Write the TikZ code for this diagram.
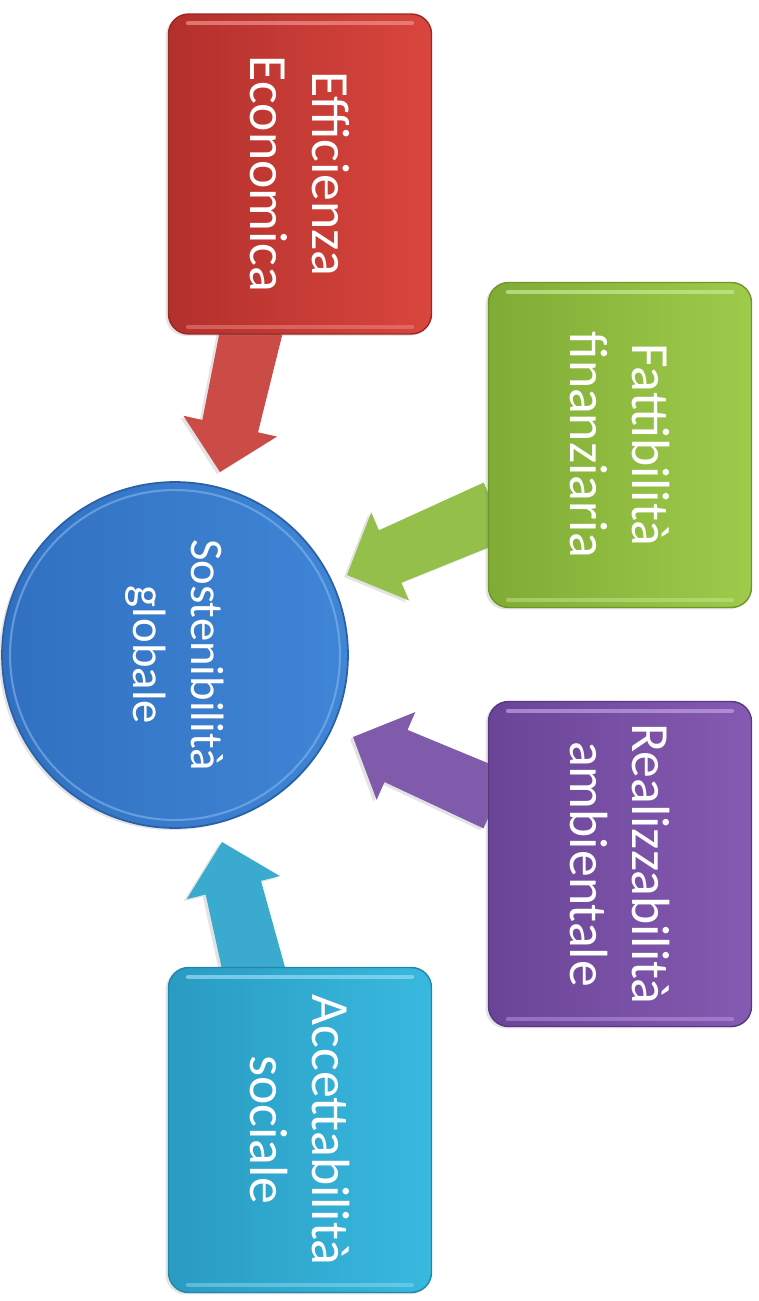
\documentclass[tikz,border=0pt]{standalone}
\usepackage{fontspec}
\setmainfont{Carlito}
\usetikzlibrary{calc,shadows}

% palette
\definecolor{ecoDark}{HTML}{B3302C}
\definecolor{ecoLight}{HTML}{D9463E}
\definecolor{ecoLine}{HTML}{9C2723}
\definecolor{ecoHi}{HTML}{EE8C86}
\definecolor{ecoArrow}{HTML}{CB4C46}
\definecolor{finDark}{HTML}{80AB35}
\definecolor{finLight}{HTML}{9ECB4B}
\definecolor{finLine}{HTML}{6F9629}
\definecolor{finHi}{HTML}{C8E68E}
\definecolor{finArrow}{HTML}{94BF4A}
\definecolor{ambDark}{HTML}{6A4597}
\definecolor{ambLight}{HTML}{855AB2}
\definecolor{ambLine}{HTML}{583883}
\definecolor{ambHi}{HTML}{BB9CE2}
\definecolor{ambArrow}{HTML}{805BAB}
\definecolor{socDark}{HTML}{2A9BC2}
\definecolor{socLight}{HTML}{39B9DF}
\definecolor{socLine}{HTML}{1F86AC}
\definecolor{socHi}{HTML}{8FDAF1}
\definecolor{socArrow}{HTML}{3BAACF}
\definecolor{gloDark}{HTML}{3170C1}
\definecolor{gloLight}{HTML}{4086D6}
\definecolor{gloLine}{HTML}{2A60A8}
\definecolor{gloHi}{HTML}{84B6EE}

\tikzset{
  x=0.02cm, y=-0.02cm,
  softshadow/.style={drop shadow={opacity=0.22, shadow xshift=-0.06cm, shadow yshift=-0.04cm}},
  box/.style={rectangle, rounded corners=0.4cm, minimum width=5.26cm,
    inner sep=0pt, line width=0.8pt, softshadow},
  boxtext/.style={text=white, font=\fontsize{30.6}{35.1}\selectfont,
    align=center, rotate=-90},
  hub/.style={circle, minimum size=6.92cm, inner sep=0pt, line width=1pt,
    left color=gloDark, right color=gloLight, draw=gloLine, softshadow},
  hubtext/.style={text=white, font=\fontsize{26.6}{32.9}\selectfont,
    align=center, rotate=-90},
  hiline/.style={line width=2.2pt, line cap=round, opacity=0.75},
}

% block arrow from a start point to a tip point
\newcommand{\blockarrow}[3]{%
  \coordinate (hb) at ($(#2)!0.94cm!(#1)$);
  \fill[#3, softshadow]
    ($(#1)!0.62cm!90:(#2)$) -- ($(hb)!0.57cm!90:(#2)$) --
    ($(hb)!0.96cm!90:(#2)$) -- (#2) -- ($(hb)!0.96cm!-90:(#2)$) --
    ($(hb)!0.57cm!-90:(#2)$) -- ($(#1)!0.62cm!-90:(#2)$) -- cycle;
}

% highlight strokes near the upper and lower edge of a box
\newcommand{\boxshine}[2]{%
  \draw[hiline, #2] ($(#1.north west)+(20,10)$) -- ($(#1.north east)+(-20,10)$);
  \draw[hiline, #2, opacity=0.5] ($(#1.south west)+(20,-8)$) -- ($(#1.south east)+(-20,-8)$);
}

\begin{document}
\begin{tikzpicture}
\useasboundingbox (0,0) rectangle (759,1301);

% arrow end points
\coordinate (ecoS) at (252,328);
\coordinate (ecoT) at (220,472);
\coordinate (finS) at (496,511);
\coordinate (finT) at (347,575);
\coordinate (ambS) at (496,800);
\coordinate (ambT) at (353,737);
\coordinate (socS) at (255,975);
\coordinate (socT) at (222,842);

\blockarrow{ecoS}{ecoT}{ecoArrow}
\blockarrow{finS}{finT}{finArrow}
\blockarrow{ambS}{ambT}{ambArrow}
\blockarrow{socS}{socT}{socArrow}

% central circle
\node[hub] (glo) at (175,655) {};
\draw[gloHi, line width=1.2pt, opacity=0.6] (glo.center) circle[radius=3.3cm];
\node[hubtext] (glotext) at (glo.center) {Sostenibilità\\globale};

% outer boxes
\node[box, minimum height=6.4cm, left color=ecoDark, right color=ecoLight, draw=ecoLine] (eco) at (300,174) {};
\boxshine{eco}{ecoHi}
\node[boxtext] (ecotext) at (eco.center) {Efficienza\\Economica};

\node[box, minimum height=6.5cm, left color=finDark, right color=finLight, draw=finLine] (fin) at (620,445) {};
\boxshine{fin}{finHi}
\node[boxtext] (fintext) at (fin.center) {Fattibilità\\finanziaria};

\node[box, minimum height=6.5cm, left color=ambDark, right color=ambLight, draw=ambLine] (amb) at (620,864) {};
\boxshine{amb}{ambHi}
\node[boxtext] (ambtext) at (amb.center) {Realizzabilità\\ambientale};

\node[box, minimum height=6.5cm, left color=socDark, right color=socLight, draw=socLine] (soc) at (300,1130) {};
\boxshine{soc}{socHi}
\node[boxtext] (soctext) at (soc.center) {Accettabilità\\sociale};
\end{tikzpicture}
\end{document}
